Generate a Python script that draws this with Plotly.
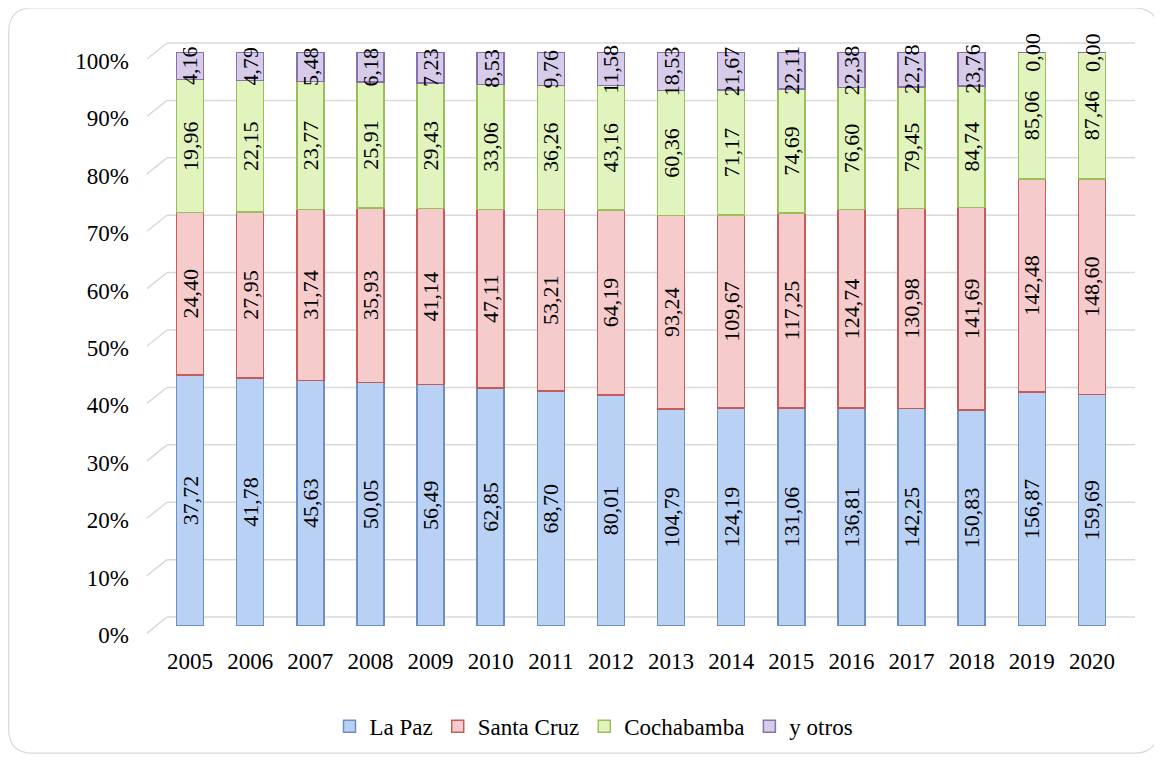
import plotly.graph_objects as go

years = [str(y) for y in range(2005, 2021)]

la_paz = [37.72, 41.78, 45.63, 50.05, 56.49, 62.85, 68.70, 80.01,
          104.79, 124.19, 131.06, 136.81, 142.25, 150.83, 156.87, 159.69]
santa_cruz = [24.40, 27.95, 31.74, 35.93, 41.14, 47.11, 53.21, 64.19,
              93.24, 109.67, 117.25, 124.74, 130.98, 141.69, 142.48, 148.60]
cochabamba = [19.96, 22.15, 23.77, 25.91, 29.43, 33.06, 36.26, 43.16,
              60.36, 71.17, 74.69, 76.60, 79.45, 84.74, 85.06, 87.46]
otros = [4.16, 4.79, 5.48, 6.18, 7.23, 8.53, 9.76, 11.58,
         18.53, 21.67, 22.11, 22.38, 22.78, 23.76, 0.00, 0.00]

series = [
    ("La Paz", la_paz, "#b9d1f4", "#6f8fc4"),
    ("Santa Cruz", santa_cruz, "#f6cbcb", "#c65b5b"),
    ("Cochabamba", cochabamba, "#e1f4bd", "#9bbd5a"),
    ("y otros", otros, "#d7cbea", "#8a70ad"),
]

tick_vals = list(range(0, 101, 10))
tick_text = [f"{v}%" for v in tick_vals]

FONT = "Liberation Serif, Times New Roman, serif"

# the page body adds an 8px margin, so the figure is 8px smaller than the window
OFF = 8
W, H = 1162 - OFF, 760 - OFF
# layout in screenshot pixels: bars run from BAR_TOP to BAR_BOT,
# the % labels sit LBL px lower (3D look of the original)
PL, PR, BAR_TOP, BAR_BOT, LBL = 160, 1122, 52, 630, 9
PT, PB = BAR_TOP, BAR_BOT + LBL
L, R, T, B = PL - OFF, W - (PR - OFF), PT - OFF, H - (PB - OFF)
PW, PH = PR - PL, PB - PT


def fmt(v):
    return f"{v:.2f}".replace(".", ",")


def px(x):
    return (x - PL) / PW


def py(y):
    return (PB - y) / PH


def vy(v):
    # paper position of a percentage on the bar axis
    return py(BAR_BOT - v / 100 * (BAR_BOT - BAR_TOP))


fig = go.Figure()
for name, vals, fill, edge in series:
    inside = name != "y otros"
    fig.add_trace(
        go.Bar(
            x=years,
            y=vals,
            name=name,
            marker=dict(color=fill, line=dict(color=edge, width=1.5)),
            text=[fmt(v) for v in vals] if inside else None,
            textposition="inside" if inside else "none",
            insidetextanchor="middle",
            textangle=-90,
            constraintext="none",
            insidetextfont=dict(family=FONT, size=22, color="black"),
            cliponaxis=False,
        )
    )

# empty trace so the label-only axis (y2) gets drawn
fig.add_trace(go.Scatter(x=[], y=[], yaxis="y2", showlegend=False, hoverinfo="skip"))

# labels for the top segment, placed at the middle of that segment
# (x given as the category index so it is not read as a number)
annotations = []
for i in range(len(years)):
    total = la_paz[i] + santa_cruz[i] + cochabamba[i] + otros[i]
    mid = (total - otros[i] / 2) / total * 100
    annotations.append(dict(x=i, y=mid, text=fmt(otros[i]), showarrow=False,
                            textangle=-90, font=dict(family=FONT, size=22, color="black")))

shapes = []
# 3D-style back-wall gridlines with the short diagonal at the left
for v in tick_vals:
    shapes.append(dict(type="line", xref="paper", yref="paper", ysizemode="pixel",
                       yanchor=vy(v), x0=px(167), x1=px(1135), y0=9, y1=9,
                       line=dict(color="#d9d9d9", width=1.5), layer="below"))
    shapes.append(dict(type="line", xref="paper", yref="paper", ysizemode="pixel",
                       yanchor=vy(v), x0=px(147), x1=px(167), y0=-7, y1=9,
                       line=dict(color="#d9d9d9", width=1.5), layer="below"))

# rounded frame around the chart
x0, x1, y0, y1, r = 8.7, 1158, 7.7, 758, 24
path = (
    f"M {px(x0 + r)} {py(y0)} L {px(x1 - r)} {py(y0)} "
    f"Q {px(x1)} {py(y0)} {px(x1)} {py(y0 + r)} L {px(x1)} {py(y1 - r)} "
    f"Q {px(x1)} {py(y1)} {px(x1 - r)} {py(y1)} L {px(x0 + r)} {py(y1)} "
    f"Q {px(x0)} {py(y1)} {px(x0)} {py(y1 - r)} L {px(x0)} {py(y0 + r)} "
    f"Q {px(x0)} {py(y0)} {px(x0 + r)} {py(y0)} Z"
)
shapes.append(dict(type="path", xref="paper", yref="paper", path=path,
                   line=dict(color="#d9d9d9", width=1.2), layer="below"))

fig.update_layout(
    barmode="stack",
    barnorm="percent",
    bargap=0.55,
    width=W,
    height=H,
    margin=dict(l=L, r=R, t=T, b=B),
    paper_bgcolor="white",
    # transparent so the label axis' subplot does not hide the bars
    plot_bgcolor="rgba(0,0,0,0)",
    font=dict(family=FONT, size=23, color="black"),
    shapes=shapes,
    annotations=annotations,
    xaxis=dict(type="category", categoryorder="array", categoryarray=years,
               showgrid=False, showline=False, ticks="",
               ticklabelstandoff=19, tickfont=dict(size=23)),
    yaxis=dict(range=[0, 100], domain=[vy(0), 1], showticklabels=False,
               showgrid=False, zeroline=False, showline=False, ticks=""),
    # second axis only carries the % labels, shifted a few px down
    yaxis2=dict(range=[0, 100], domain=[0, 1 - LBL / PH], anchor="x",
                tickvals=tick_vals, ticktext=tick_text,
                showgrid=False, zeroline=False, showline=False, ticks="",
                ticklabelstandoff=30, tickfont=dict(size=23)),
    legend=dict(orientation="h", x=px(594), xanchor="center", y=py(731),
                yanchor="middle", font=dict(size=23), itemwidth=30,
                traceorder="normal"),
)

fig.write_html("out.html")
